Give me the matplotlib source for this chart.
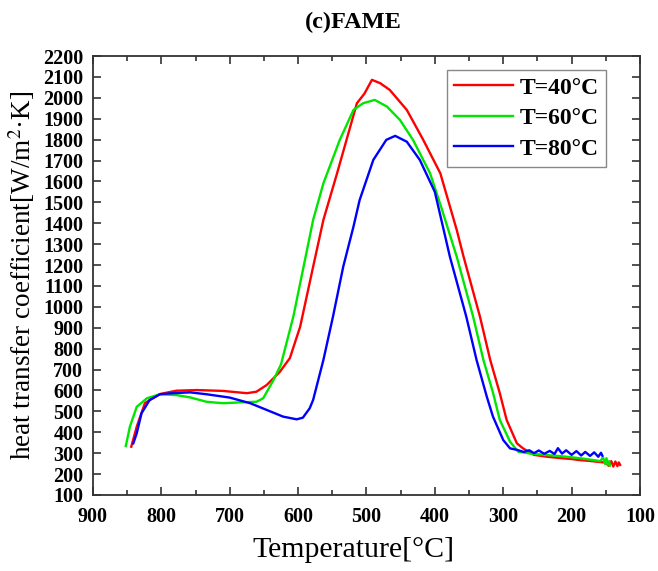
import matplotlib
matplotlib.use('Agg')
import matplotlib.pyplot as plt
from matplotlib.ticker import MultipleLocator

plt.rcParams['font.family'] = ['Liberation Serif', 'DejaVu Serif']
plt.rcParams['mathtext.fontset'] = 'stix'

# T = 40 C
t40 = [844, 836, 824, 802, 778, 748, 710, 675, 661, 646, 627, 612, 597, 578, 563,
       543, 514, 503, 492, 480, 466, 441, 417, 392, 368, 358, 334, 319, 305, 295,
       280, 271, 255, 236, 215, 200, 188, 170, 160, 150, 146, 142, 139, 136, 133, 131, 129]
h40 = [331, 427, 540, 583, 599, 602, 598, 587, 594, 626, 688, 755, 905, 1192, 1416,
       1639, 1974, 2020, 2086, 2070, 2038, 1942, 1799, 1639, 1368, 1240, 953, 746, 587, 459,
       347, 323, 292, 283, 276, 272, 267, 262, 258, 255, 240, 262, 236, 260, 238, 256, 244]

# T = 60 C
t60 = [852, 846, 836, 821, 802, 778, 758, 734, 710, 685, 661, 651, 636, 625, 607,
       592, 578, 563, 539, 519, 505, 488, 470, 451, 432, 407, 390, 368, 344, 329,
       315, 305, 290, 278, 260, 236, 210, 188, 170, 158, 154, 151, 149, 147, 145, 144]
h60 = [334, 427, 522, 563, 582, 578, 567, 546, 539, 543, 546, 563, 650, 725, 953,
       1192, 1416, 1591, 1799, 1942, 1974, 1990, 1958, 1894, 1799, 1639, 1470, 1240, 953, 746,
       590, 459, 355, 307, 298, 291, 284, 276, 268, 262, 280, 248, 276, 245, 262, 240]

# T = 80 C
t80 = [841, 836, 829, 817, 802, 783, 758, 734, 700, 670, 646, 622, 602, 593, 583,
       578, 563, 549, 534, 519, 510, 490, 471, 458, 441, 422, 400, 378, 354, 339,
       324, 315, 300, 290, 280, 270, 262, 255, 248, 240, 232, 225, 220, 214, 208,
       200, 193, 186, 180, 173, 167, 161, 157, 155]
h80 = [347, 395, 491, 555, 582, 587, 591, 582, 566, 539, 507, 475, 462, 470, 515,
       555, 746, 953, 1192, 1384, 1511, 1703, 1799, 1818, 1790, 1703, 1550, 1240, 953, 746,
       570, 475, 363, 323, 316, 306, 314, 300, 313, 297, 311, 296, 324, 298, 314,
       292, 310, 289, 306, 287, 304, 283, 302, 288]

labels = ['T=40\u00b0C', 'T=60\u00b0C', 'T=80\u00b0C']
colors = ['#ff0000', '#00e600', '#0000ff']

fig = plt.figure(figsize=(6.58, 5.71), dpi=100)
ax = fig.add_axes([0.1413, 0.1331, 0.8313, 0.7688])

for t, h, lab, c in zip([t40, t60, t80], [h40, h60, h80], labels, colors):
    ax.plot(t, h, color=c, lw=1.7, label=lab)

ax.set_xlim(900, 100)
ax.set_ylim(100, 2200)
ax.xaxis.set_major_locator(MultipleLocator(100))
ax.xaxis.set_minor_locator(MultipleLocator(50))
ax.yaxis.set_major_locator(MultipleLocator(100))

ax.tick_params(axis='both', which='both', direction='in', top=True, right=True,
               color='#333333')
ax.tick_params(which='major', length=6, width=1.2)
ax.tick_params(which='minor', length=3.5, width=1.2)
ax.tick_params(axis='x', pad=9)
ax.tick_params(axis='y', pad=7)
for lbl in ax.get_xticklabels() + ax.get_yticklabels():
    lbl.set_fontweight('bold')
    lbl.set_fontsize(14.5)

for s in ax.spines.values():
    s.set_linewidth(1.3)
    s.set_color('#333333')

ax.set_xlabel('Temperature[\u00b0C]', fontsize=21.5)
ax.xaxis.set_label_coords((354 - 93) / 547, -0.095)
ax.set_ylabel('heat transfer coefficient[W/m$^2$\u00b7K]', fontsize=19.5, labelpad=4)
fig.text(353 / 658, 1 - 22 / 571, '(c)FAME', fontsize=17.5, fontweight='bold',
         ha='center', va='center')

leg = ax.legend(loc='upper right', bbox_to_anchor=(0.9378, 0.968), borderaxespad=0,
                fancybox=False, edgecolor='#888888', framealpha=1,
                prop={'weight': 'bold', 'size': 17}, handlelength=2.5,
                handletextpad=0.3, labelspacing=0.38, borderpad=0.3)
leg.get_frame().set_linewidth(1.0)

fig.savefig('out.png', dpi=100)
plt.close(fig)
